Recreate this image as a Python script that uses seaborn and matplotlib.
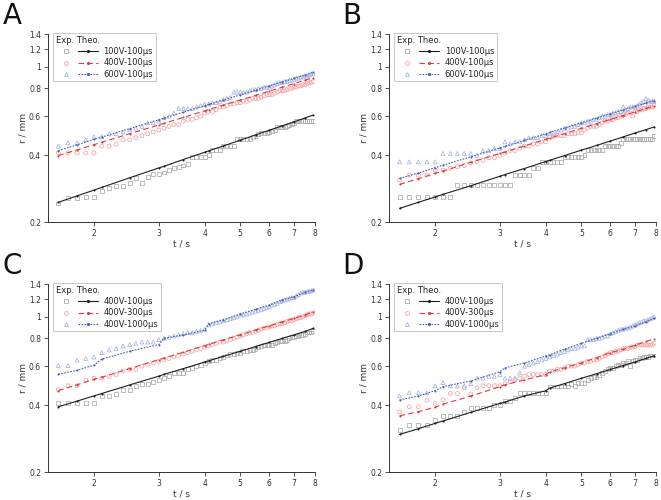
import pandas as pd
import matplotlib
matplotlib.use("Agg")
import matplotlib.pyplot as plt
import seaborn as sns
from matplotlib.lines import Line2D
from matplotlib.legend_handler import HandlerTuple
from matplotlib.ticker import NullLocator

# tempos (s) das medidas e da teoria
t_exp = [1.6, 1.7, 1.8, 1.9, 2.0, 2.1, 2.2, 2.3, 2.4, 2.5, 2.6, 2.7, 2.8, 2.9,
         3.0, 3.1, 3.2, 3.3, 3.4, 3.5, 3.6, 3.7, 3.8, 3.9, 4.0, 4.1, 4.2, 4.3,
         4.4, 4.5, 4.6, 4.7, 4.8, 4.9, 5.0, 5.1, 5.2, 5.3, 5.4, 5.5, 5.6, 5.7,
         5.8, 5.9, 6.0, 6.1, 6.2, 6.3, 6.4, 6.5, 6.6, 6.7, 6.8, 6.9, 7.0, 7.1,
         7.2, 7.3, 7.4, 7.5, 7.6, 7.7, 7.8, 7.9]
t_theo = [1.6, 1.8, 2.0, 2.1, 2.5, 3.0, 3.1, 3.5, 4.0, 4.1, 4.5, 5.0, 5.5, 6.0,
          6.5, 7.0, 7.5, 7.9]

labels_ab = ['100V-100µs', '400V-100µs', '600V-100µs']
labels_cd = ['400V-100µs', '400V-300µs', '400V-1000µs']

# painel A
a_exp_1 = [0.243, 0.258, 0.258, 0.260, 0.260,
           0.276, 0.285, 0.290, 0.290, 0.300, 0.315, 0.300, 0.320, 0.330,
           0.330, 0.335, 0.345, 0.350, 0.355, 0.360, 0.365, 0.392, 0.392, 0.392,
           0.392, 0.400, 0.423, 0.423, 0.423, 0.440, 0.440, 0.440, 0.440, 0.474,
           0.474, 0.474, 0.474, 0.474, 0.485, 0.490, 0.500, 0.502, 0.502, 0.502,
           0.510, 0.515, 0.520, 0.536, 0.536, 0.536, 0.536, 0.540, 0.550, 0.555,
           0.560, 0.571, 0.571, 0.571, 0.571, 0.571, 0.571, 0.571, 0.571, 0.571]
a_exp_2 = [0.41, 0.41, 0.41, 0.41, 0.41,
           0.44, 0.44, 0.45, 0.47, 0.47, 0.48, 0.49, 0.50, 0.51,
           0.52, 0.53, 0.54, 0.55, 0.55, 0.57, 0.58, 0.58, 0.59, 0.60,
           0.62, 0.63, 0.63, 0.64, 0.66, 0.66, 0.67, 0.68, 0.68, 0.69,
           0.69, 0.70, 0.70, 0.71, 0.72, 0.72, 0.72, 0.73, 0.74, 0.75,
           0.75, 0.75, 0.76, 0.77, 0.78, 0.78, 0.78, 0.79, 0.80, 0.80,
           0.81, 0.81, 0.82, 0.82, 0.83, 0.83, 0.84, 0.85, 0.85, 0.86]
a_exp_3 = [0.44, 0.456, 0.455, 0.47, 0.485,
           0.485, 0.50, 0.50, 0.51, 0.52, 0.53, 0.54, 0.56, 0.56,
           0.57, 0.59, 0.60, 0.62, 0.65, 0.65, 0.65, 0.65, 0.66, 0.67,
           0.68, 0.68, 0.69, 0.69, 0.70, 0.71, 0.72, 0.73, 0.77, 0.77,
           0.77, 0.77, 0.77, 0.78, 0.79, 0.79, 0.80, 0.80, 0.81, 0.81,
           0.81, 0.82, 0.83, 0.84, 0.85, 0.85, 0.86, 0.86, 0.87, 0.87,
           0.88, 0.89, 0.89, 0.90, 0.90, 0.91, 0.91, 0.92, 0.93, 0.93]
a_theo_1 = [0.246, 0.263, 0.279, 0.287, 0.317, 0.351, 0.357, 0.383, 0.413, 0.419,
            0.441, 0.468, 0.494, 0.519, 0.543, 0.566, 0.589, 0.607]
a_theo_2 = [0.399, 0.423, 0.447, 0.458, 0.500, 0.548, 0.557, 0.592, 0.634, 0.642,
            0.673, 0.709, 0.744, 0.778, 0.810, 0.841, 0.871, 0.894]
a_theo_3 = [0.420, 0.446, 0.472, 0.483, 0.527, 0.578, 0.588, 0.625, 0.669, 0.677,
            0.710, 0.748, 0.785, 0.821, 0.855, 0.887, 0.919, 0.945]

# painel B
b_exp_1 = [0.261, 0.261, 0.261, 0.261, 0.261,
           0.261, 0.261, 0.294, 0.294, 0.294, 0.294, 0.294, 0.294, 0.294,
           0.294, 0.294, 0.294, 0.326, 0.326, 0.326, 0.326, 0.350, 0.350, 0.374,
           0.374, 0.374, 0.374, 0.374, 0.374, 0.394, 0.394, 0.394, 0.394, 0.394,
           0.394, 0.400, 0.422, 0.422, 0.422, 0.422, 0.422, 0.422, 0.440, 0.440,
           0.440, 0.440, 0.440, 0.440, 0.455, 0.472, 0.472, 0.472, 0.472, 0.472,
           0.472, 0.472, 0.472, 0.472, 0.472, 0.472, 0.472, 0.472, 0.472, 0.490]
b_exp_2 = [0.31, 0.326, 0.326, 0.326, 0.343,
           0.343, 0.35, 0.355, 0.36, 0.37, 0.375, 0.38, 0.39, 0.39,
           0.40, 0.41, 0.42, 0.42, 0.43, 0.44, 0.44, 0.45, 0.45, 0.46,
           0.46, 0.485, 0.485, 0.49, 0.49, 0.49, 0.50, 0.50, 0.50, 0.506,
           0.506, 0.52, 0.53, 0.54, 0.54, 0.54, 0.55, 0.56, 0.57, 0.57,
           0.58, 0.58, 0.59, 0.59, 0.60, 0.61, 0.61, 0.62, 0.62, 0.60,
           0.63, 0.63, 0.64, 0.64, 0.65, 0.65, 0.66, 0.66, 0.66, 0.67]
b_exp_3 = [0.374, 0.374, 0.374, 0.374, 0.374,
           0.408, 0.408, 0.408, 0.408, 0.408, 0.40, 0.42, 0.42, 0.43,
           0.43, 0.46, 0.45, 0.46, 0.46, 0.47, 0.48, 0.48, 0.48, 0.49,
           0.49, 0.50, 0.50, 0.51, 0.52, 0.53, 0.53, 0.54, 0.54, 0.55,
           0.56, 0.56, 0.57, 0.57, 0.58, 0.58, 0.59, 0.60, 0.60, 0.61,
           0.61, 0.62, 0.62, 0.63, 0.63, 0.66, 0.64, 0.65, 0.66, 0.66,
           0.66, 0.67, 0.68, 0.69, 0.70, 0.72, 0.71, 0.70, 0.70, 0.70]
b_theo_1 = [0.231, 0.246, 0.260, 0.267, 0.292, 0.322, 0.328, 0.349, 0.375, 0.380,
            0.399, 0.422, 0.443, 0.464, 0.484, 0.504, 0.522, 0.537]
b_theo_2 = [0.296, 0.314, 0.332, 0.340, 0.372, 0.408, 0.414, 0.441, 0.472, 0.478,
            0.501, 0.529, 0.555, 0.580, 0.604, 0.627, 0.650, 0.667]
b_theo_3 = [0.315, 0.333, 0.352, 0.361, 0.394, 0.432, 0.439, 0.467, 0.500, 0.507,
            0.531, 0.560, 0.588, 0.615, 0.640, 0.664, 0.688, 0.704]

# painel C
c_exp_1 = [0.41, 0.41, 0.41, 0.41, 0.41,
           0.442, 0.442, 0.45, 0.47, 0.47, 0.49, 0.50, 0.50, 0.51,
           0.52, 0.53, 0.54, 0.56, 0.56, 0.56, 0.58, 0.59, 0.60, 0.61,
           0.62, 0.63, 0.64, 0.64, 0.65, 0.66, 0.67, 0.68, 0.68, 0.69,
           0.69, 0.70, 0.70, 0.71, 0.71, 0.72, 0.73, 0.74, 0.75, 0.75,
           0.75, 0.75, 0.76, 0.77, 0.78, 0.78, 0.78, 0.79, 0.80, 0.81,
           0.81, 0.82, 0.82, 0.83, 0.83, 0.84, 0.85, 0.85, 0.85, 0.86]
c_exp_2 = [0.47, 0.49, 0.49, 0.52, 0.53,
           0.53, 0.54, 0.55, 0.57, 0.58, 0.58, 0.60, 0.61, 0.62,
           0.63, 0.64, 0.65, 0.66, 0.67, 0.68, 0.69, 0.70, 0.71, 0.72,
           0.73, 0.74, 0.75, 0.76, 0.77, 0.77, 0.78, 0.79, 0.80, 0.81,
           0.82, 0.83, 0.84, 0.85, 0.85, 0.86, 0.87, 0.88, 0.89, 0.89,
           0.90, 0.91, 0.91, 0.92, 0.93, 0.93, 0.94, 0.95, 0.96, 0.96,
           0.97, 0.98, 0.99, 0.99, 1.00, 1.01, 1.02, 1.03, 1.03, 1.04]
c_exp_3 = [0.604, 0.604, 0.639, 0.650, 0.66,
           0.69, 0.71, 0.72, 0.74, 0.75, 0.76, 0.77, 0.77, 0.77,
           0.79, 0.80, 0.81, 0.82, 0.83, 0.84, 0.85, 0.85, 0.86, 0.87,
           0.88, 0.92, 0.93, 0.94, 0.95, 0.96, 0.97, 0.98, 0.99, 1.00,
           1.02, 1.02, 1.03, 1.04, 1.05, 1.06, 1.07, 1.08, 1.09, 1.10,
           1.11, 1.13, 1.14, 1.15, 1.17, 1.18, 1.19, 1.20, 1.21, 1.22,
           1.22, 1.24, 1.26, 1.28, 1.29, 1.29, 1.30, 1.30, 1.31, 1.32]
c_theo_1 = [0.394, 0.418, 0.441, 0.452, 0.494, 0.541, 0.551, 0.585, 0.626, 0.634,
            0.664, 0.700, 0.735, 0.768, 0.800, 0.830, 0.860, 0.888]
c_theo_2 = [0.466, 0.495, 0.524, 0.535, 0.585, 0.641, 0.652, 0.693, 0.742, 0.751,
            0.788, 0.830, 0.871, 0.911, 0.949, 0.984, 1.020, 1.054]
c_theo_3 = [0.552, 0.575, 0.606, 0.645, 0.700, 0.750, 0.800, 0.830, 0.870, 0.930,
            0.970, 1.030, 1.080, 1.130, 1.190, 1.230, 1.290, 1.320]

# painel D
d_exp_1 = [0.31, 0.326, 0.326, 0.326, 0.343,
           0.359, 0.359, 0.359, 0.374, 0.39, 0.39, 0.39, 0.39, 0.40,
           0.40, 0.42, 0.42, 0.43, 0.456, 0.456, 0.456, 0.456, 0.456, 0.456,
           0.456, 0.486, 0.486, 0.486, 0.486, 0.486, 0.486, 0.50, 0.49, 0.506,
           0.506, 0.506, 0.52, 0.53, 0.538, 0.538, 0.55, 0.56, 0.57, 0.58,
           0.59, 0.59, 0.60, 0.61, 0.61, 0.62, 0.62, 0.63, 0.60, 0.63,
           0.64, 0.64, 0.65, 0.65, 0.66, 0.66, 0.66, 0.67, 0.67, 0.67]
d_exp_2 = [0.374, 0.394, 0.394, 0.423, 0.408,
           0.423, 0.452, 0.452, 0.48, 0.45, 0.48, 0.49, 0.49, 0.49,
           0.49, 0.50, 0.51, 0.52, 0.53, 0.54, 0.55, 0.55, 0.55, 0.55,
           0.55, 0.57, 0.57, 0.58, 0.58, 0.59, 0.60, 0.60, 0.60, 0.61,
           0.62, 0.62, 0.63, 0.63, 0.64, 0.64, 0.65, 0.66, 0.67, 0.68,
           0.69, 0.69, 0.70, 0.70, 0.71, 0.72, 0.72, 0.72, 0.73, 0.73,
           0.734, 0.747, 0.747, 0.747, 0.747, 0.747, 0.747, 0.747, 0.747, 0.76]
d_exp_3 = [0.441, 0.456, 0.456, 0.456, 0.489,
           0.506, 0.489, 0.489, 0.489, 0.50, 0.53, 0.53, 0.54, 0.54,
           0.55, 0.53, 0.53, 0.53, 0.56, 0.60, 0.61, 0.62, 0.63, 0.64,
           0.65, 0.66, 0.67, 0.68, 0.69, 0.70, 0.71, 0.72, 0.72, 0.73,
           0.74, 0.74, 0.79, 0.79, 0.79, 0.80, 0.80, 0.81, 0.82, 0.82,
           0.84, 0.85, 0.86, 0.87, 0.88, 0.88, 0.89, 0.89, 0.90, 0.91,
           0.92, 0.93, 0.94, 0.95, 0.96, 0.96, 0.97, 0.98, 0.99, 1.00]
d_theo_1 = [0.296, 0.314, 0.332, 0.340, 0.372, 0.408, 0.414, 0.441, 0.465, 0.478,
            0.501, 0.529, 0.555, 0.580, 0.604, 0.627, 0.650, 0.669]
d_theo_2 = [0.359, 0.375, 0.392, 0.405, 0.440, 0.485, 0.495, 0.520, 0.550, 0.565,
            0.590, 0.620, 0.655, 0.690, 0.715, 0.745, 0.775, 0.795]
d_theo_3 = [0.423, 0.440, 0.466, 0.485, 0.515, 0.566, 0.590, 0.620, 0.667, 0.675,
            0.715, 0.760, 0.800, 0.840, 0.880, 0.910, 0.950, 0.985]

paineis = {
    'A': (labels_ab, [a_exp_1, a_exp_2, a_exp_3], [a_theo_1, a_theo_2, a_theo_3]),
    'B': (labels_ab, [b_exp_1, b_exp_2, b_exp_3], [b_theo_1, b_theo_2, b_theo_3]),
    'C': (labels_cd, [c_exp_1, c_exp_2, c_exp_3], [c_theo_1, c_theo_2, c_theo_3]),
    'D': (labels_cd, [d_exp_1, d_exp_2, d_exp_3], [d_theo_1, d_theo_2, d_theo_3]),
}

sns.set_style("ticks")
plt.rcParams['font.family'] = ['DejaVu Sans']

cor_linha = ['#1e1e1e', '#dd3c3c', '#4a60b0']
cor_marca = ['#ababab', '#f2a3a3', '#a5b4e2']
marcas = ['s', 'o', '^']
estilos = ['-', (0, (5, 3)), (0, (1.5, 1.2))]

posicoes = {
    'A': [0.0726, 0.5554, 0.4045, 0.376],
    'B': [0.5889, 0.5554, 0.4040, 0.376],
    'C': [0.0726, 0.0554, 0.4045, 0.376],
    'D': [0.5889, 0.0554, 0.4040, 0.376],
}
letras = {'A': (0.004, 0.995), 'B': (0.518, 0.995), 'C': (0.004, 0.495), 'D': (0.518, 0.495)}

fig = plt.figure(figsize=(6.61, 5.0), dpi=100)

for letra, (labels, exps, theos) in paineis.items():
    ax = fig.add_axes(posicoes[letra])
    handles = []
    for i in range(3):
        df_exp = pd.DataFrame({'t': t_exp, 'r': exps[i]})
        df_theo = pd.DataFrame({'t': t_theo, 'r': theos[i]})
        sns.scatterplot(data=df_exp, x='t', y='r', marker=marcas[i], s=8,
                        fc='none', ec=cor_marca[i], linewidth=0.55, ax=ax, zorder=2)
        sns.lineplot(data=df_theo, x='t', y='r', color=cor_linha[i], lw=0.8,
                     linestyle=estilos[i], marker='.', markersize=1.5, mec=cor_linha[i],
                     ax=ax, zorder=3)
        h_exp = Line2D([], [], ls='none', marker=marcas[i], mfc='none',
                       mec=cor_marca[i], ms=2.8, mew=0.6)
        h_theo = Line2D([], [], color=cor_linha[i], lw=0.8, ls=estilos[i],
                        marker='.', ms=2.5, markevery=[1])
        handles.append((h_exp, h_theo))

    ax.set_xscale('log')
    ax.set_yscale('log')
    ax.set_xlim(1.5, 8)
    ax.set_ylim(0.2, 1.4)
    ax.set_xticks([2, 3, 4, 5, 6, 7, 8])
    ax.set_xticklabels(['2', '3', '4', '5', '6', '7', '8'])
    ax.set_yticks([0.2, 0.4, 0.6, 0.8, 1.0, 1.2, 1.4])
    ax.set_yticklabels(['0.2', '0.4', '0.6', '0.8', '1', '1.2', '1.4'])
    ax.xaxis.set_minor_locator(NullLocator())
    ax.yaxis.set_minor_locator(NullLocator())
    ax.tick_params(labelsize=5.5, length=3, width=0.6, colors='#333333', pad=2)
    ax.set_xlabel('t / s', fontsize=6.5, color='#333333', labelpad=1)
    ax.set_ylabel('r / mm', fontsize=6.5, color='#333333', labelpad=1)
    sns.despine(ax=ax)
    for s in ['left', 'bottom']:
        ax.spines[s].set_linewidth(0.7)
        ax.spines[s].set_color('#333333')

    leg = ax.legend(handles, labels, title='Exp. Theo.', loc='upper left',
                    bbox_to_anchor=(0.019, 1.005), borderaxespad=0,
                    handler_map={tuple: HandlerTuple(ndivide=None, pad=0.3)},
                    handlelength=5.0, handletextpad=0.7, fontsize=6,
                    title_fontsize=6, alignment='left', frameon=True,
                    fancybox=False, edgecolor='#bbbbbb', labelspacing=0.25,
                    borderpad=0.35)
    leg.get_frame().set_linewidth(0.7)

    fig.text(letras[letra][0], letras[letra][1], letra, fontsize=20,
             va='top', ha='left', color='#111111')

fig.savefig('out.png', dpi=100)
